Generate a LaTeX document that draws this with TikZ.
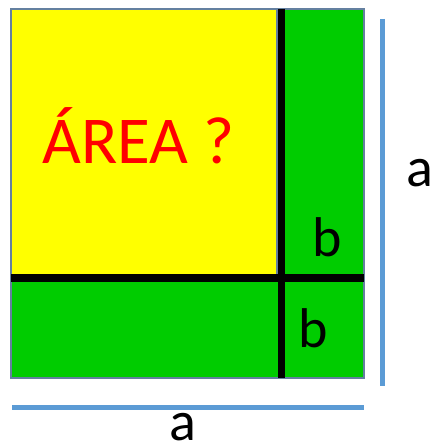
\documentclass[tikz,border=0pt]{standalone}
\usepackage{fontspec}
\setmainfont{Carlito}
\usepackage{tikz}
\usetikzlibrary{positioning}
\definecolor{sqyellow}{RGB}{255,255,0}
\definecolor{sqgreen}{RGB}{0,204,0}
\definecolor{edgegray}{RGB}{100,128,160}
\definecolor{dimblue}{RGB}{91,155,213}

\begin{document}
\begin{tikzpicture}[x=1pt, y=-1pt,
  every node/.style={inner sep=0pt, font=\fontsize{56}{60}\selectfont},
  frame/.style={draw=edgegray, line width=1.5pt},
  cut/.style={draw=black, line width=7.5pt},
  dim/.style={draw=dimblue, line width=5pt},
]
  \useasboundingbox (0,0) rectangle (432,444);

  % big square a x a and the inner square
  \filldraw[frame, fill=sqgreen] (11,9) rectangle (364,378);
  \filldraw[frame, fill=sqyellow] (11,9) rectangle (277,275);

  % strips of width b
  \draw[cut] (281.5,9) -- (281.5,378);
  \draw[cut] (11,278) -- (364,278);

  \node[text=red, font=\fontsize{67}{70}\selectfont] (area) at (138.5,136) {ÁREA ?};
  \node (b1) at (327,237) {b};
  \node (b2) at (313,328) {b};

  % side lengths
  \coordinate (vtop) at (382,19);
  \coordinate (vbot) at (382,386);
  \coordinate (hleft) at (12,407.5);
  \coordinate (hright) at (364,407.5);
  \draw[dim] (vtop) -- (vbot);
  \draw[dim] (hleft) -- (hright);
  \node (aside) at (420,173) {a};
  \node (abot) at (183,427) {a};
\end{tikzpicture}
\end{document}
